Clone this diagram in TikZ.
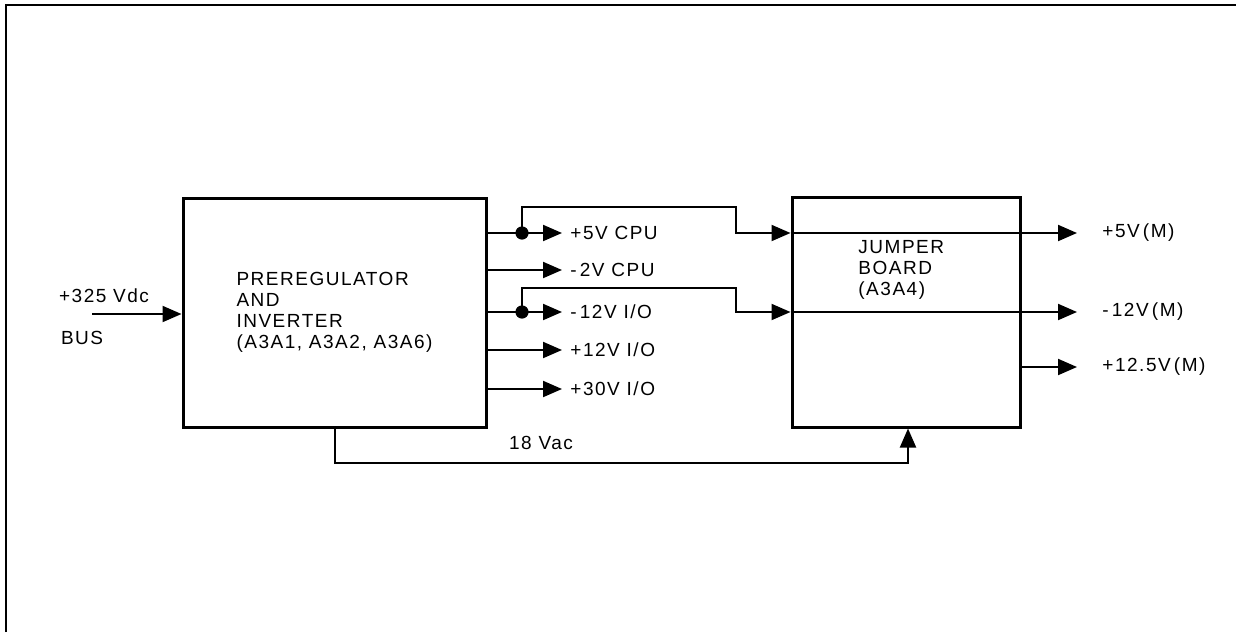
\documentclass[tikz,border=0pt]{standalone}
\usepackage{fontspec}
\setmainfont{Liberation Sans}[LetterSpace=8]
\usetikzlibrary{arrows.meta,positioning}

\begin{document}
\begin{tikzpicture}[x=0.5pt,y=-0.5pt,font=\fontsize{9.5}{10.5}\selectfont,
   box/.style={draw,line width=1.5pt,align=left},
   flow/.style={-{Triangle[length=9.5pt,width=8pt]},line width=1pt},
   lab/.style={anchor=west,inner sep=4pt},
   mlab/.style={lab,inner xsep=12.5pt}]
  \useasboundingbox (0,0) rectangle (1236,632);
  \draw[line width=1.3pt] (6,632) |- (1236,5);
  \node[box,minimum width=151.5pt,minimum height=114.5pt] (pre) at (334.5,312.5)
    {PREREGULATOR\\AND\\INVERTER\\(A3A1, A3A2, A3A6)};
  \node[box,minimum width=114pt,minimum height=115pt] (jmp) at (906,312) {};
  \node[anchor=west,inner sep=0pt,align=left] (jlab) at (858,270) {JUMPER\\BOARD\\(A3A4)};
  % input bus
  \node[anchor=west] (vdc) at (52,296) {+325 Vdc};
  \node[anchor=west] (bus) at (54,338) {BUS};
  \coordinate (busin) at (92,314);
  \draw[flow] (busin) -- (pre.west |- busin);
  % outputs of the preregulator
  \node[lab] (o1) at (562,233) {+5V CPU};
  \node[lab] (o2) at (562,270) {-\,2V CPU};
  \node[lab] (o3) at (562,312) {-\,12V I/O};
  \node[lab] (o4) at (562,350) {+12V I/O};
  \node[lab] (o5) at (562,389) {+30V I/O};
  \foreach \i in {1,...,5}
    \draw[flow] (pre.east |- o\i) -- (o\i.west);
  % jumper board
  \node[mlab] (m1) at (1077,233) {+5V\,(M)};
  \node[mlab] (m2) at (1077,312) {-\,12V\,(M)};
  \node[mlab] (m3) at (1077,367) {+12.5V\,(M)};
  \coordinate (j1) at (522,233); \coordinate (k1) at (736,207);
  \coordinate (j2) at (522,312); \coordinate (k2) at (736,288);
  \foreach \i in {1,2} {
    \fill (j\i) circle[radius=3.3pt];
    \draw[flow] (j\i) |- (k\i) |- (jmp.west |- m\i);
    \draw[flow] (jmp.west |- m\i) -- (m\i.west);
  }
  \draw[flow] (jmp.east |- m3) -- (m3.west);
  % 18 Vac
  \coordinate (vin) at (335,463); \coordinate (vout) at (908,463);
  \draw[flow] (pre.south -| vin) -- (vin) -- (vout) -- (jmp.south -| vout);
  \node (vac) at (541,443) {18 Vac};
\end{tikzpicture}
\end{document}
